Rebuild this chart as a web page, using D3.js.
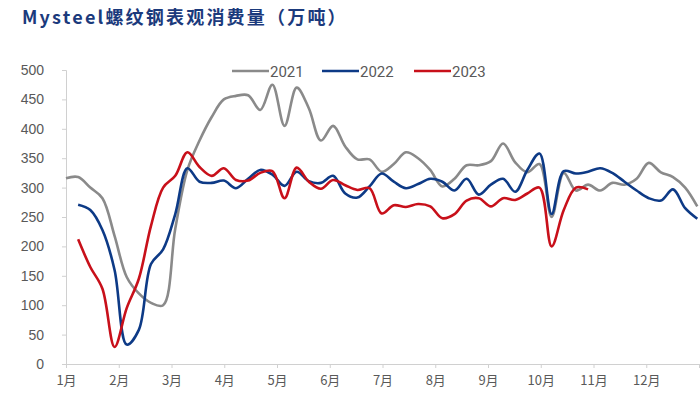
<!DOCTYPE html>
<html><head><meta charset="utf-8">
<script src="https://cdn.jsdelivr.net/npm/d3@7/dist/d3.min.js"></script>
<style>body{margin:0;background:#fff}svg{display:block}</style>
</head><body><svg id="c" width="700" height="401"></svg>
<script>
const months = ["1月","2月","3月","4月","5月","6月","7月","8月","9月","10月","11月","12月"];
const yTicks = [0,50,100,150,200,250,300,350,400,450,500];
const years = ["2021","2022","2023"];
// weekly values, 2021 starts at week 0, 2022 and 2023 at week 1
const s2021 = [316,318,300,282,218,148,120,104,100,230,330,380,420,450,456,457,432,475,405,470,435,380,405,370,348,348,327,340,360,350,330,302,315,338,338,345,375,343,326,340,250,325,295,305,295,308,305,315,342,326,318,300,268];
const s2022 = [271,262,228,160,33,58,170,195,255,333,310,308,312,299,315,330,322,303,327,311,308,320,290,283,302,324,310,299,306,315,310,295,315,288,305,315,293,330,358,255,328,324,327,333,325,310,295,282,278,297,265,247];
const s2023 = [212,165,128,29,95,145,235,300,320,360,335,320,333,313,312,325,328,282,334,310,298,313,304,296,299,256,270,267,272,268,248,255,278,282,268,282,279,290,300,200,262,300,297];
const starts = [0,1,1];
const seriesVals = [s2021,s2022,s2023];
const colors = ["#8a8a8a","#0d3a86","#c8101a"];

const svg = d3.select("#c");
const L=66, R=699, T=70, B=364;
const xm = d3.scaleLinear().domain([0,12]).range([L,R]);
const WEEKS_PER_YEAR = 52.14;
const y = d3.scaleLinear().domain([0,500]).range([B,T]);

svg.append("text").attr("x",22).attr("y",24)
  .attr("font-family","'Noto Sans CJK SC','DejaVu Sans',sans-serif")
  .attr("font-weight","bold").attr("font-size",18).attr("fill","#1b3a7c")
  .attr("letter-spacing",2.2)
  .text("Mysteel螺纹钢表观消费量（万吨）");

// y axis
const ya = svg.append("g").attr("transform",`translate(${L},0)`)
  .call(d3.axisLeft(y).tickValues(yTicks).tickSize(4).tickPadding(18));
ya.select(".domain").attr("stroke","#d0d0d0");
ya.selectAll(".tick line").attr("stroke","#d0d0d0");
ya.selectAll("text").attr("fill","#595959").attr("font-size",14)
  .attr("font-family","'Liberation Sans',Arial,sans-serif");

// x axis
const xa = svg.append("g").attr("transform",`translate(0,${B})`)
  .call(d3.axisBottom(xm).tickValues(d3.range(0,13)).tickSize(4).tickPadding(8)
    .tickFormat(d=>months[d]||""));
xa.select(".domain").attr("stroke","#d0d0d0");
xa.selectAll(".tick line").attr("stroke","#d0d0d0");
xa.selectAll("text").attr("fill","#595959").attr("font-size",13)
  .attr("font-family","'Noto Sans CJK SC',sans-serif");

const line = d3.line().curve(d3.curveCatmullRom.alpha(0.5))
  .x(d=>xm(d.w*12/WEEKS_PER_YEAR)).y(d=>y(d.v));

seriesVals.forEach((arr,k)=>{
  const data = arr.map((v,i)=>({w:i+starts[k], v}));
  svg.append("path").datum(data).attr("d",line).attr("fill","none")
    .attr("stroke",colors[k]).attr("stroke-width",2.6).attr("stroke-linejoin","round");
});

// legend
const lx = [232,322,414];
years.forEach((yr,k)=>{
  const g = svg.append("g").attr("transform",`translate(${lx[k]},71)`);
  g.append("line").attr("x1",0).attr("x2",37).attr("y1",0).attr("y2",0)
    .attr("stroke",colors[k]).attr("stroke-width",2.6);
  g.append("text").attr("x",38).attr("y",6).attr("font-size",15).attr("fill","#595959")
    .attr("font-family","Roboto,'Liberation Sans',sans-serif").text(yr);
});
</script></body></html>
